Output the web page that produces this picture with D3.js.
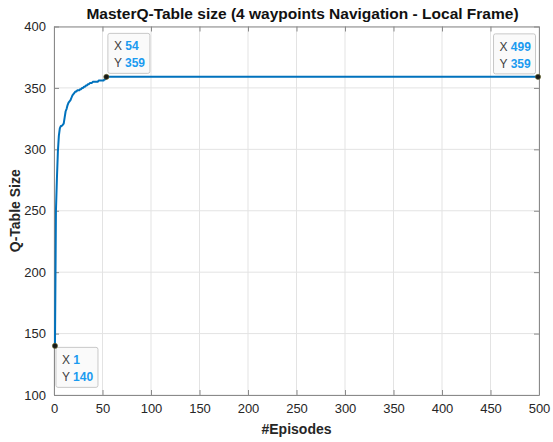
<!DOCTYPE html>
<html>
<head>
<meta charset="utf-8">
<script src="https://cdn.jsdelivr.net/npm/d3@7"></script>
<style>
  body { margin: 0; background: #fff; }
  text { font-family: "Liberation Sans", Arial, sans-serif; }
</style>
</head>
<body>
<svg width="553" height="442"></svg>
<script>
// data
var episodes = [1, 2, 3, 4, 5, 6, 7, 8, 9, 10, 11, 12, 13, 14, 15, 16, 17, 18, 19, 20,
  21, 22, 23, 24, 25, 26, 27, 28, 29, 30, 31, 32, 33, 34, 35, 36, 37, 38, 39, 40,
  41, 42, 43, 44, 45, 46, 47, 48, 49, 50, 51, 52, 53, 54, 499];
var tableSize = [140, 250, 276, 298, 311, 317, 319, 319, 320, 321, 326, 331, 333, 336, 338, 339, 340, 342, 344, 345,
  346, 347, 347, 348, 348, 348, 349, 349, 350, 350, 351, 351, 352, 352, 353, 353, 354, 354, 354, 355,
  355, 355, 355, 355, 355, 356, 356, 356, 356, 356, 356, 357, 357, 359, 359];
var xTicks = [0, 50, 100, 150, 200, 250, 300, 350, 400, 450, 500];
var yTicks = [100, 150, 200, 250, 300, 350, 400];
var tips = [
  { x: 54, y: 359, pos: "ur" },
  { x: 499, y: 359, pos: "ul" },
  { x: 1, y: 140, pos: "dr" }
];

function main() {
  var svg = d3.select("svg");
  var left = 54, right = 539, top = 26.5, bottom = 395;

  var x = d3.scaleLinear().domain([0, 500]).range([left, right]);
  var y = d3.scaleLinear().domain([100, 400]).range([bottom, top]);

  // grid
  var grid = svg.append("g").attr("stroke", "#e3e3e3").attr("stroke-width", 1);
  xTicks.forEach(function(t) {
    grid.append("line").attr("x1", x(t)).attr("x2", x(t)).attr("y1", top).attr("y2", bottom);
  });
  yTicks.forEach(function(t) {
    grid.append("line").attr("x1", left).attr("x2", right).attr("y1", y(t)).attr("y2", y(t));
  });

  // axes (ticks inward, box on)
  svg.append("g").attr("transform", "translate(0," + bottom + ")")
    .call(d3.axisBottom(x).tickValues(xTicks).tickSizeInner(-5).tickSizeOuter(0).tickPadding(9));
  svg.append("g").attr("transform", "translate(" + left + ",0)")
    .call(d3.axisLeft(y).tickValues(yTicks).tickSizeInner(-5).tickSizeOuter(0).tickPadding(8));
  svg.append("g").attr("transform", "translate(0," + top + ")")
    .call(d3.axisTop(x).tickValues(xTicks).tickSizeInner(-5).tickSizeOuter(0).tickFormat(""));
  svg.append("g").attr("transform", "translate(" + right + ",0)")
    .call(d3.axisRight(y).tickValues(yTicks).tickSizeInner(-5).tickSizeOuter(0).tickFormat(""));

  svg.selectAll(".domain").attr("stroke", "#8a8a8a");
  svg.selectAll(".tick line").attr("stroke", "#8a8a8a");
  svg.selectAll(".tick text").attr("fill", "#262626").attr("font-size", "13px")
    .attr("font-family", "Liberation Sans, Arial, sans-serif");

  // line
  var pts = episodes.map(function(e, i) { return [e, tableSize[i]]; });
  svg.append("path").datum(pts)
    .attr("fill", "none").attr("stroke", "#0072BD").attr("stroke-width", 2)
    .attr("stroke-linejoin", "round")
    .attr("d", d3.line().x(function(d) { return x(d[0]); }).y(function(d) { return y(d[1]); }));

  // data tips
  var bw = 42, bh = 40;
  tips.forEach(function(t) {
    var px = x(t.x), py = y(t.y);
    var bx, by;
    if (t.pos === "ur") { bx = px + 1.5; by = py - bh - 3.5; }
    if (t.pos === "ul") { bx = px - bw - 2.5; by = py - bh - 3; }
    if (t.pos === "dr") { bx = px + 1; by = py + 1.5; }
    var g = svg.append("g");
    g.append("rect").attr("x", bx).attr("y", by).attr("width", bw).attr("height", bh)
      .attr("rx", 2).attr("fill", "#fafafa").attr("fill-opacity", 0.95)
      .attr("stroke", "#c8c8c8").attr("stroke-width", 1);
    var t1 = g.append("text").attr("x", bx + 6).attr("y", by + 17).attr("font-size", "12px");
    t1.append("tspan").attr("fill", "#404040").text("X ");
    t1.append("tspan").attr("fill", "#1a9bf0").attr("font-weight", "bold").text(t.x);
    var t2 = g.append("text").attr("x", bx + 6).attr("y", by + 34).attr("font-size", "12px");
    t2.append("tspan").attr("fill", "#404040").text("Y ");
    t2.append("tspan").attr("fill", "#1a9bf0").attr("font-weight", "bold").text(t.y);
    svg.append("circle").attr("cx", px).attr("cy", py).attr("r", 2.6)
      .attr("fill", "#1a1a1a").attr("stroke", "#6b6b2a").attr("stroke-width", 0.6);
  });

  // labels
  svg.append("text").attr("x", (left + right) / 2 + 6).attr("y", 19)
    .attr("text-anchor", "middle").attr("font-size", "15.5px").attr("font-weight", "bold")
    .attr("fill", "#111").text("MasterQ-Table size (4 waypoints Navigation - Local Frame)");
  svg.append("text").attr("x", (left + right) / 2).attr("y", 434)
    .attr("text-anchor", "middle").attr("font-size", "14px").attr("font-weight", "bold")
    .attr("fill", "#262626").text("#Episodes");
  svg.append("text").attr("transform", "translate(20," + ((top + bottom) / 2) + ") rotate(-90)")
    .attr("text-anchor", "middle").attr("font-size", "14px").attr("font-weight", "bold")
    .attr("fill", "#262626").text("Q-Table Size");
}
main();
</script>
</body>
</html>
